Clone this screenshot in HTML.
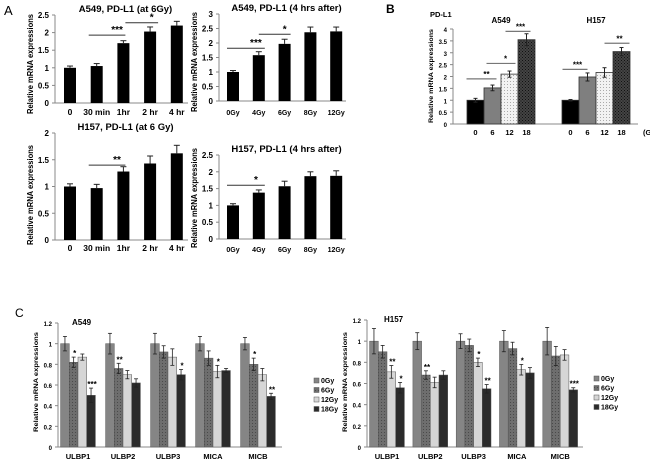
<!DOCTYPE html>
<html><head><meta charset="utf-8">
<style>
body{margin:0;background:#fff;}
svg{display:block;font-family:"Liberation Sans",sans-serif;}
</style></head>
<body>
<svg id="fig" width="650" height="461" viewBox="0 0 650 461">
<text x="4" y="15" font-size="13">A</text>
<text x="386" y="13" font-size="12" font-weight="bold">B</text>
<text x="15" y="317" font-size="12">C</text>
</svg>
<script>
// ---- data ----
const a1Cats = ['0','30 min','1hr','2 hr','4 hr'];
const a1Vals = [1.0,1.05,1.7,2.03,2.2];
const a1Errs = [0.05,0.07,0.07,0.13,0.12];
const a1Ticks = [0,0.5,1,1.5,2,2.5];
const a2Cats = ['0Gy','4Gy','6Gy','8Gy','12Gy'];
const a2Vals = [1.0,1.58,1.97,2.37,2.4];
const a2Errs = [0.05,0.12,0.16,0.18,0.15];
const a2Ticks = [0,0.5,1,1.5,2,2.5,3];
const a3Cats = ['0','30 min','1hr','2 hr','4 hr'];
const a3Vals = [1.0,0.97,1.28,1.43,1.62];
const a3Errs = [0.05,0.07,0.09,0.14,0.15];
const a3Ticks = [0,0.5,1,1.5,2];
const a4Cats = ['0Gy','4Gy','6Gy','8Gy','12Gy'];
const a4Vals = [1.0,1.38,1.57,1.87,1.88];
const a4Errs = [0.05,0.08,0.15,0.13,0.15];
const a4Ticks = [0,0.5,1,1.5,2,2.5];
const bCats = ['0','6','12','18'];
const bA549 = [1.0,1.52,2.1,3.55];
const bA549Err = [0.08,0.12,0.13,0.25];
const bH157 = [1.0,1.98,2.17,3.05];
const bH157Err = [0.03,0.17,0.2,0.17];
const bTicks = [0,0.5,1,1.5,2,2.5,3,3.5,4];
const cGenes = ['ULBP1','ULBP2','ULBP3','MICA','MICB'];
const cDoses = ['0Gy','6Gy','12Gy','18Gy'];
const cA549 = [[1,0.82,0.87,0.5],[1,0.76,0.7,0.62],[1,0.92,0.87,0.7],[1,0.86,0.73,0.74],[1,0.8,0.7,0.49]];
const cA549Err = [[0.07,0.05,0.03,0.07],[0.1,0.05,0.04,0.04],[0.1,0.06,0.08,0.05],[0.07,0.07,0.06,0.02],[0.06,0.06,0.06,0.03]];
const cA549Sig = [['','*','','***'],['','**','',''],['','','','*'],['','','*',''],['','*','','**']];
const cH157 = [[1,0.9,0.71,0.56],[1,0.68,0.61,0.68],[1,0.96,0.8,0.55],[1,0.93,0.73,0.7],[1,0.86,0.87,0.54]];
const cH157Err = [[0.12,0.06,0.06,0.05],[0.08,0.04,0.05,0.04],[0.07,0.06,0.04,0.04],[0.1,0.06,0.05,0.05],[0.13,0.09,0.05,0.02]];
const cH157Sig = [['','','**','*'],['','**','',''],['','','*','**'],['','','*',''],['','','','***']];
const cTicks = [0,0.2,0.4,0.6,0.8,1,1.2];

const svg = document.getElementById('fig');
const NS = 'http://www.w3.org/2000/svg';
function mk(tag, attrs, txt){
  const e = document.createElementNS(NS, tag);
  for (const k in attrs) e.setAttribute(k, attrs[k]);
  if (txt !== undefined) e.textContent = txt;
  svg.appendChild(e);
  return e;
}
const defs = mk('defs',{});
defs.innerHTML = '<pattern id="pdot" width="3" height="3" patternUnits="userSpaceOnUse"><rect width="3" height="3" fill="#f2f2f2"/><rect width="1" height="1" fill="#aaa"/></pattern>'+
'<pattern id="pchk" width="3" height="3" patternUnits="userSpaceOnUse"><rect width="3" height="3" fill="#444"/><rect width="1" height="1" fill="#111"/><rect x="1.5" y="1.5" width="1" height="1" fill="#111"/></pattern>'+
'<pattern id="pdark" width="3" height="3" patternUnits="userSpaceOnUse"><rect width="3" height="3" fill="#6e6e6e"/><rect width="1" height="1" fill="#4a4a4a"/></pattern>';

function yAxis(x0, x1, y0, yTop, ticks, fs, name){
  const max = ticks[ticks.length-1];
  const ys = v => y0 - v/max*(y0-yTop);
  let e = mk('line',{x1:x0,y1:yTop,x2:x0,y2:y0,stroke:'#888','stroke-width':1});
  
  
  e = mk('line',{x1:x0,y1:y0,x2:x1,y2:y0,stroke:'#888','stroke-width':1});
  
  
  ticks.forEach(t=>{
    mk('line',{x1:x0-3,y1:ys(t),x2:x0,y2:ys(t),stroke:'#888'});
    const l = mk('text',{x:x0-6,y:ys(t)+3,'font-size':fs,'text-anchor':'end','font-weight':'bold'}, String(t));
    
    
  });
  return ys;
}
function ylabel(x, yc, fs, len, name){
  const t = mk('text',{x:x,y:yc,'font-size':fs,'font-weight':'bold','text-anchor':'middle',textLength:len,lengthAdjust:'spacingAndGlyphs',transform:'rotate(-90 '+x+' '+yc+')'},'Relative mRNA expressions');
  
  
}
function errBar(cx, ys, v, e, cap){
  mk('line',{x1:cx,y1:ys(v+e),x2:cx,y2:ys(v),stroke:'#222'});
  mk('line',{x1:cx-cap,y1:ys(v+e),x2:cx+cap,y2:ys(v+e),stroke:'#222'});
}
function sig(xa, xb, ys, v, s, name){
  const l = mk('line',{x1:xa,y1:ys(v),x2:xb,y2:ys(v),stroke:'#333','stroke-width':1});
  
  
  const t = mk('text',{x:(xa+xb)/2+10,y:ys(v)-2,'font-size':10,'font-weight':'bold','text-anchor':'middle'}, s);
  
  
}
function panelA(cfg){
  const {x0,x1,y0,yTop,ticks,cats,vals,errs,title,name,labY,first,step} = cfg;
  const ys = yAxis(x0,x1,y0,yTop,ticks,8,name);
  ylabel(x0-22,cfg.labC,8.5,100,name);
  const tt = mk('text',{x:(x0+x1)/2+4,y:yTop-3,'font-size':9.5,'font-weight':'bold','text-anchor':'middle'},title);
  
  
  const xs = i => first + i*step;
  cats.forEach((c,i)=>{
    const r = mk('rect',{x:xs(i)-6,y:ys(vals[i]),width:12,height:y0-ys(vals[i]),fill:'#000'});
    
    
    errBar(xs(i), ys, vals[i], errs[i], 3);
    const l = mk('text',{x:xs(i),y:labY,'font-size':cfg.lfs||8.5,'font-weight':'bold','text-anchor':'middle'},c);
    
    
  });
  return {ys, xs};
}
let p;
p = panelA({x0:55,x1:188,y0:103,yTop:15,ticks:a1Ticks,cats:a1Cats,vals:a1Vals,errs:a1Errs,title:'A549, PD-L1 (at 6Gy)',name:'a549-time',labY:115,first:70,step:26.7,labC:64});
sig(p.xs(1)-8,p.xs(2)+2,p.ys,1.93,'***','a549-time');
sig(p.xs(2)+2,p.xs(3)+8,p.ys,2.28,'*','a549-time');
p = panelA({x0:219,x1:346,y0:101,yTop:14,ticks:a2Ticks,cats:a2Cats,vals:a2Vals,errs:a2Errs,title:'A549, PD-L1 (4 hrs after)',name:'a549-dose',labY:115,first:233,step:25.8,lfs:7,labC:62});
sig(p.xs(0)-6,p.xs(1)+6,p.ys,1.82,'***','a549-dose');
sig(p.xs(1),p.xs(2)+6,p.ys,2.3,'*','a549-dose');
p = panelA({x0:55,x1:188,y0:240,yTop:133,ticks:a3Ticks,cats:a3Cats,vals:a3Vals,errs:a3Errs,title:'H157, PD-L1 (at 6 Gy)',name:'h157-time',labY:251,first:70,step:26.7,labC:195});
sig(p.xs(1)-8,p.xs(2)+2,p.ys,1.4,'**','h157-time');
p = panelA({x0:219,x1:346,y0:239,yTop:155,ticks:a4Ticks,cats:a4Cats,vals:a4Vals,errs:a4Errs,title:'H157, PD-L1 (4 hrs after)',name:'h157-dose',labY:252,first:233,step:25.8,lfs:7,labC:198});
sig(p.xs(0)-6,p.xs(1)+6,p.ys,1.6,'*','h157-dose');

// Panel B
(function(){
  const name='b-pdl1';
  const ys = yAxis(453,638,124,29,bTicks,6,name);
  ylabel(433,76,6.5,94,name);
  let t = mk('text',{x:430,y:17,'font-size':7.5,'font-weight':'bold'},'PD-L1');
   
  const fills = ['#000','#7f7f7f','url(#pdot)','url(#pchk)'];
  const groups = [[bA549,bA549Err,467,'A549'],[bH157,bH157Err,562,'H157']];
  const bw = 17;
  groups.forEach(([vals,errs,gx,lab])=>{
    const xs = i => gx + i*bw;
    const g = mk('text',{x:gx+2*bw,y:23,'font-size':8,'font-weight':'bold','text-anchor':'middle'},lab);
     
    vals.forEach((v,i)=>{
      const r = mk('rect',{x:xs(i),y:ys(v),width:bw,height:124-ys(v),fill:fills[i],stroke:'#333','stroke-width':0.8});
      
      
      errBar(xs(i)+bw/2, ys, v, errs[i], 2);
      mk('line',{x1:xs(i)+bw/2,y1:ys(v),x2:xs(i)+bw/2,y2:ys(v-errs[i]),stroke:'#222'});
      mk('line',{x1:xs(i)+bw/2-2,y1:ys(v-errs[i]),x2:xs(i)+bw/2+2,y2:ys(v-errs[i]),stroke:'#222'});
      const l = mk('text',{x:xs(i)+bw/2,y:135,'font-size':7.5,'font-weight':'bold','text-anchor':'middle'},bCats[i]);
       
    });
  });
  const xa = i => 467 + i*bw + bw/2, xh = i => 562 + i*bw + bw/2;
  function bsig(a,b,v,s){
    const l = mk('line',{x1:a,y1:ys(v),x2:b,y2:ys(v),stroke:'#777','stroke-width':1.2});
     
    const tt = mk('text',{x:b-10,y:ys(v)-2,'font-size':8,'font-weight':'bold','text-anchor':'middle'},s);
     
  }
  bsig(xa(0)-9,xa(1)+4,1.9,'**');
  bsig(xa(1)-6,xa(2)+6,2.55,'*');
  bsig(xa(2)-4,xa(3)+4,3.9,'***');
  bsig(xh(0)-8,xh(1),2.3,'***');
  bsig(xh(2),xh(3)+8,3.4,'**');
  t = mk('text',{x:643,y:135,'font-size':7.5,'font-weight':'bold'},'(Gy)');
   
})();

// Panel C
function panelC(cfg){
  const {x0,x1,y0,yTop,first,step,vals,errs,sigs,name,title,legX,legY} = cfg;
  const ys = yAxis(x0,x1,y0,yTop,cTicks,6,name);
  ylabel(x0-20,382,6.5,100,name);
  const tt = mk('text',{x:cfg.titleX,y:yTop+2,'font-size':8,'font-weight':'bold'},title);
   
  const fills = ['#858585','url(#pdark)','#d6d6d6','#2b2b2b'];
  const bw = 8.7;
  cGenes.forEach((g,gi)=>{
    const gc = first + gi*step;
    vals[gi].forEach((v,i)=>{
      const bx = gc - 2*bw + i*bw;
      const r = mk('rect',{x:bx,y:ys(v),width:bw,height:y0-ys(v),fill:fills[i],stroke:'#555','stroke-width':0.5});
      
      
      const cx = bx+bw/2, e = errs[gi][i];
      mk('line',{x1:cx,y1:ys(v+e),x2:cx,y2:ys(v-e),stroke:'#222','stroke-width':0.8});
      mk('line',{x1:cx-2,y1:ys(v+e),x2:cx+2,y2:ys(v+e),stroke:'#222','stroke-width':0.8});
      mk('line',{x1:cx-2,y1:ys(v-e),x2:cx+2,y2:ys(v-e),stroke:'#222','stroke-width':0.8});
      if (sigs[gi][i]) {
        const s = mk('text',{x:cx+1,y:ys(v+e)-1,'font-size':8,'font-weight':'bold','text-anchor':'middle'},sigs[gi][i]);
         
      }
    });
    const l = mk('text',{x:gc,y:y0+12,'font-size':7.5,'font-weight':'bold','text-anchor':'middle'},g);
     
  });
  cDoses.forEach((d,i)=>{
    const r = mk('rect',{x:legX,y:legY+i*9.5-5,width:5,height:5,fill:fills[i],stroke:'#555','stroke-width':0.5});
     
    const t = mk('text',{x:legX+7,y:legY+i*9.5,'font-size':7,'font-weight':'bold'},d);
     
  });
}
panelC({x0:58,x1:282,y0:447,yTop:323,first:78,step:45,vals:cA549,errs:cA549Err,sigs:cA549Sig,name:'c-a549',title:'A549',titleX:72,legX:314,legY:383});
panelC({x0:367,x1:583,y0:447,yTop:320,first:387,step:43.3,vals:cH157,errs:cH157Err,sigs:cH157Sig,name:'c-h157',title:'H157',titleX:384,legX:594,legY:381});
</script>
</body></html>
